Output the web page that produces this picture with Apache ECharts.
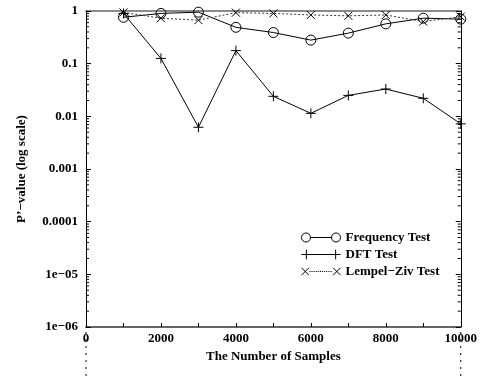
<!DOCTYPE html>
<html>
<head>
<meta charset="utf-8">
<script src="https://cdn.jsdelivr.net/npm/echarts@6/dist/echarts.min.js"></script>
<style>
html,body{margin:0;padding:0;background:#fff;}
#chart{width:480px;height:381px;}
</style>
</head>
<body>
<div id="chart"></div>
<script>
// Sample counts on the x axis
const sampleCounts = [1000, 2000, 3000, 4000, 5000, 6000, 7000, 8000, 9000, 10000];
// P'-values of each test
const frequencyTest = [0.76, 0.90, 0.95, 0.49, 0.39, 0.28, 0.38, 0.57, 0.73, 0.70];
const dftTest       = [0.90, 0.126, 0.0062, 0.177, 0.024, 0.0114, 0.025, 0.033, 0.022, 0.0072];
const lempelZivTest = [0.94, 0.73, 0.67, 0.93, 0.90, 0.84, 0.81, 0.84, 0.63, 0.78];
// Significance level line
const significance = 0.0001;
// Tick labels
const yTickLabels = ['1e\u221206', '1e\u221205', '0.0001', '0.001', '0.01', '0.1', '1'];
const xTickLabels = ['0', '2000', '4000', '6000', '8000', '10000'];
const seriesNames = ['Frequency Test', 'DFT Test', 'Lempel\u2212Ziv Test'];

// Minor log ticks (2..9 within each decade)
const yMinorTicks = [];
for (let k = -6; k < 0; k++) {
  for (let m = 2; m <= 9; m++) yMinorTicks.push(m * Math.pow(10, k));
}

const font = "'Liberation Serif', 'Times New Roman', Times, serif";
const pair = (ys) => sampleCounts.map((x, i) => [x, ys[i]]);

// Legend icons: symbol at both ends of a line sample
const circ = (cx) => `M${cx - 4.5},5a4.5,4.5 0 1,0 9,0a4.5,4.5 0 1,0 -9,0`;
const iconFreq = 'path://' + circ(5) + 'M9.5,5L30.5,5' + circ(35);
const iconDft = 'path://M0,5L40,5M5,0L5,10M35,0L35,10';
let dots = '';
for (let x = 9; x < 31; x += 2) dots += `M${x},5L${x + 1},5`;
const iconLz = 'path://M1.5,1.5L8.5,8.5M8.5,1.5L1.5,8.5' + dots + 'M31.5,1.5L38.5,8.5M38.5,1.5L31.5,8.5';

const hollow = { color: 'rgba(0,0,0,0)', borderColor: '#000', borderWidth: 1 };
const labelText = { fontFamily: font, fontWeight: 'bold', fontSize: 13, color: '#000' };

const chart = echarts.init(document.getElementById('chart'), null, { renderer: 'canvas' });

const yAxisBase = {
  type: 'log',
  logBase: 10,
  min: 1e-6,
  max: 1,
  splitNumber: 6,
  splitLine: { show: false },
  minorTick: { show: false },
  axisLine: { show: true, onZero: false, lineStyle: { color: '#000', width: 1 } },
  axisTick: { show: true, inside: true, length: 5, lineStyle: { color: '#000', width: 1 } }
};

chart.setOption({
  animation: false,
  backgroundColor: '#fff',
  grid: { left: 86, right: 17, top: 11, bottom: 54, containLabel: false },
  legend: {
    orient: 'vertical',
    left: 296,
    top: 226,
    itemWidth: 39,
    itemHeight: 10,
    itemGap: 4,
    symbolKeepAspect: true,
    textStyle: labelText,
    data: [
      { name: seriesNames[0], icon: iconFreq, itemStyle: hollow },
      { name: seriesNames[1], icon: iconDft, itemStyle: hollow },
      { name: seriesNames[2], icon: iconLz, itemStyle: hollow }
    ]
  },
  xAxis: [
    {
      type: 'value',
      position: 'bottom',
      min: 0,
      max: 10000,
      interval: 1000,
      name: 'The Number of Samples',
      nameLocation: 'middle',
      nameGap: 22,
      nameTextStyle: labelText,
      splitLine: { show: false },
      axisLine: { show: true, onZero: false, lineStyle: { color: '#666', width: 2 } },
      axisTick: { show: true, inside: true, length: 4, lineStyle: { color: '#000', width: 1 } },
      axisLabel: Object.assign({
        margin: 5,
        formatter: (v) => { const i = xTickLabels.indexOf(String(v)); return i >= 0 ? xTickLabels[i] : ''; }
      }, labelText)
    },
    {
      type: 'value',
      position: 'top',
      min: 0,
      max: 10000,
      interval: 1000,
      splitLine: { show: false },
      axisLine: { show: true, onZero: false, lineStyle: { color: '#666', width: 1.5 } },
      axisTick: { show: false },
      axisLabel: { show: false }
    }
  ],
  yAxis: [
    Object.assign({}, yAxisBase, {
      position: 'left',
      name: 'P\u2019\u2212value (log scale)',
      nameLocation: 'middle',
      nameRotate: 90,
      nameGap: 58,
      nameTextStyle: labelText,
      axisLabel: Object.assign({
        margin: 8,
        formatter: (v) => yTickLabels[Math.round(Math.log10(v)) + 6] || ''
      }, labelText)
    }),
    Object.assign({}, yAxisBase, {
      position: 'right',
      axisLabel: { show: false }
    })
  ],
  series: [
    {
      name: seriesNames[0],
      type: 'line',
      data: pair(frequencyTest),
      symbol: 'circle',
      symbolSize: 10,
      showAllSymbol: true,
      itemStyle: hollow,
      lineStyle: { color: '#000', width: 1 },
      emphasis: { disabled: true },
      z: 3,
      markLine: {
        silent: true,
        symbol: ['none', 'none'],
        label: { show: false },
        lineStyle: { color: '#333', width: 1, type: [2, 2] },
        data: [{ yAxis: significance }]
      }
    },
    {
      name: seriesNames[1],
      type: 'line',
      data: pair(dftTest),
      symbol: 'path://M5,0L5,10M0,5L10,5',
      symbolSize: 10,
      showAllSymbol: true,
      itemStyle: hollow,
      lineStyle: { color: '#000', width: 1 },
      emphasis: { disabled: true },
      z: 3
    },
    {
      name: seriesNames[2],
      type: 'line',
      data: pair(lempelZivTest),
      symbol: 'path://M0,0L10,10M10,0L0,10',
      symbolSize: 8,
      showAllSymbol: true,
      itemStyle: hollow,
      lineStyle: { color: '#333', width: 1, type: [2, 2] },
      emphasis: { disabled: true },
      z: 3
    },
    {
      // minor log ticks on left and right frame
      type: 'custom',
      silent: true,
      data: yMinorTicks.map((v) => [0, v]),
      renderItem: (params, api) => {
        const v = api.value(1);
        const l = api.coord([0, v]);
        const r = api.coord([10000, v]);
        const st = { stroke: '#000', lineWidth: 1 };
        return {
          type: 'group',
          children: [
            { type: 'line', shape: { x1: l[0], y1: l[1], x2: l[0] + 3, y2: l[1] }, style: st },
            { type: 'line', shape: { x1: r[0] - 3, y1: r[1], x2: r[0], y2: r[1] }, style: st }
          ]
        };
      },
      z: 2
    }
  ]
});

// Short dashed drop lines below the frame corners
const x0 = chart.convertToPixel({ xAxisIndex: 0 }, 0);
const x1 = chart.convertToPixel({ xAxisIndex: 0 }, 10000);
const yb = chart.convertToPixel({ yAxisIndex: 0 }, 1e-6);
const drop = (x) => ({
  type: 'line',
  silent: true,
  shape: { x1: x, y1: yb + 5, x2: x, y2: 381 },
  style: { stroke: '#000', lineWidth: 1, lineDash: [2, 5] }
});
chart.setOption({ graphic: [drop(x0), drop(x1)] });
</script>
</body>
</html>
